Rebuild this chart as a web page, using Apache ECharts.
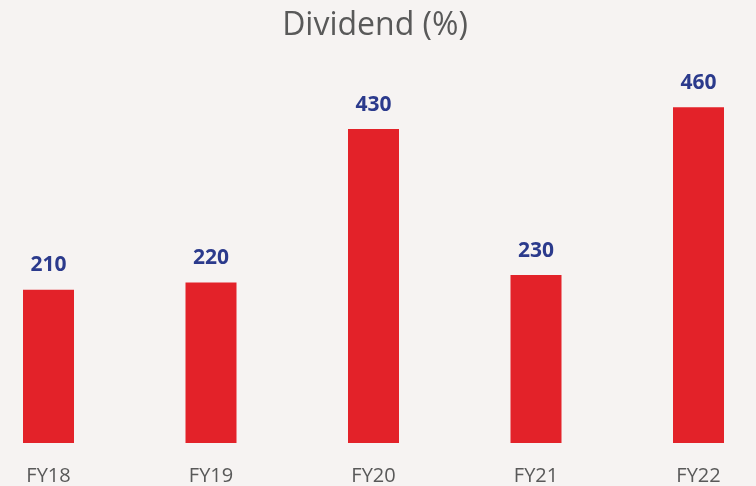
<!DOCTYPE html>
<html>
<head>
<meta charset="utf-8">
<script src="https://cdn.jsdelivr.net/npm/echarts@6/dist/echarts.min.js"></script>
<style>
  html, body { margin: 0; padding: 0; background: #f6f3f2; }
  #chart { width: 756px; height: 486px; }
</style>
</head>
<body>
<div id="chart"></div>
<script>
// Dividend payout by financial year, in percent
const categories = ['FY18', 'FY19', 'FY20', 'FY21', 'FY22'];
const dividendPct = [210, 220, 430, 230, 460];

const chart = echarts.init(document.getElementById('chart'), null, { renderer: 'canvas' });

chart.setOption({
  backgroundColor: '#f6f3f2',
  animation: false,
  title: {
    text: 'Dividend (%)',
    left: 370,
    textAlign: 'center',
    top: 5,
    textStyle: {
      fontFamily: 'Open Sans',
      fontSize: 32,
      fontWeight: 'normal',
      color: '#595959'
    }
  },
  grid: {
    left: 48.5,
    right: 57.5,
    top: 78,
    bottom: 41,
    containLabel: false
  },
  xAxis: {
    type: 'category',
    data: categories,
    boundaryGap: false,
    axisLine: { show: false },
    axisTick: { show: false },
    axisLabel: {
      margin: 23,
      fontFamily: 'Open Sans',
      fontSize: 20,
      color: '#595959'
    }
  },
  yAxis: {
    type: 'value',
    min: 0,
    max: 500,
    show: false,
    splitLine: { show: false }
  },
  series: [{
    type: 'bar',
    data: dividendPct,
    barWidth: 51,
    itemStyle: { color: '#e32229' },
    label: {
      show: true,
      position: 'top',
      distance: 14,
      fontFamily: 'Open Sans',
      fontSize: 21,
      fontWeight: 'bold',
      color: '#2b3a8c'
    }
  }]
});
</script>
</body>
</html>
